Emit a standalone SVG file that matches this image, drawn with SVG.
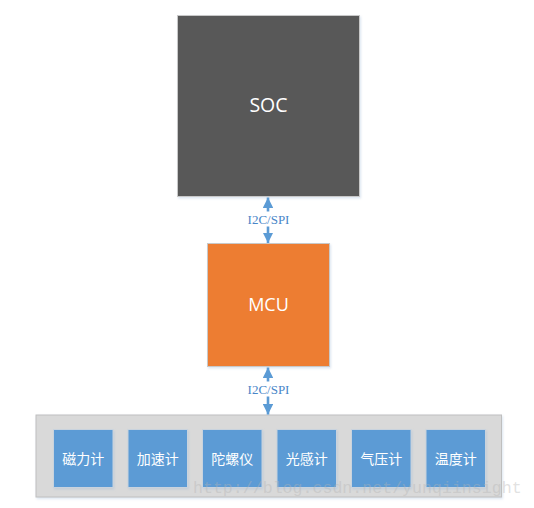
<svg xmlns="http://www.w3.org/2000/svg" width="534" height="508" viewBox="0 0 534 508">
<style>
.box{stroke:#c8c8c8;stroke-width:1;filter:url(#sh)}
.big{fill:#ffffff;font-family:"Open Sans","Noto Sans",sans-serif;font-size:18px;text-anchor:middle}
.sensor{fill:#5b9bd5;stroke:#c9d3de;stroke-width:1;filter:url(#sh)}
.st{fill:#ffffff;font-family:"Noto Sans CJK SC","Noto Sans",sans-serif;font-size:14px;text-anchor:middle}
.conn{stroke:#5b9bd5;stroke-width:2.6;fill:none;marker-start:url(#ah);marker-end:url(#ah)}
.lbl{fill:#4a86c8;font-family:"Liberation Serif","DejaVu Serif",serif;font-size:13px;text-anchor:middle}
.wm{fill:#b4b4b4;fill-opacity:0.4;font-family:"Liberation Mono","DejaVu Sans Mono",monospace;font-size:16.6px}
</style>
<defs>
<filter id="sh" x="-10%" y="-10%" width="130%" height="130%">
<feDropShadow dx="1" dy="1.5" stdDeviation="1.2" flood-color="#9db8d6" flood-opacity="0.35"/>
</filter>
<marker id="ah" viewBox="0 0 10 10" refX="10" refY="5" markerWidth="10.5" markerHeight="10.5" markerUnits="userSpaceOnUse" orient="auto-start-reverse">
<path d="M0,0 L10,5 L0,10 Z" fill="#5b9bd5"/>
</marker>
</defs>
<g id="soc">
<rect class="box" x="177.5" y="15.5" width="182" height="181" fill="#595959"/>
<text class="big" x="268.5" y="111.5" style="font-size:19.5px">SOC</text>
</g>
<g id="mcu">
<rect class="box" x="207.5" y="243.5" width="122" height="123" fill="#ed7d31"/>
<text class="big" x="268.5" y="311">MCU</text>
</g>
<g id="sensors">
<rect x="36" y="415" width="465.5" height="82" fill="#d9d9d9" stroke="#bfbfbf" stroke-width="1" filter="url(#sh)"/>
<g id="s1"><rect class="sensor" x="53.5" y="429.5" width="59.5" height="58"/><text class="st" x="83.25" y="463.5">磁力计</text></g>
<g id="s2"><rect class="sensor" x="128" y="429.5" width="59.5" height="58"/><text class="st" x="157.75" y="463.5">加速计</text></g>
<g id="s3"><rect class="sensor" x="202.5" y="429.5" width="59.5" height="58"/><text class="st" x="232.25" y="463.5">陀螺仪</text></g>
<g id="s4"><rect class="sensor" x="277" y="429.5" width="59.5" height="58"/><text class="st" x="306.75" y="463.5">光感计</text></g>
<g id="s5"><rect class="sensor" x="351.5" y="429.5" width="59.5" height="58"/><text class="st" x="381.25" y="463.5">气压计</text></g>
<g id="s6"><rect class="sensor" x="426" y="429.5" width="59.5" height="58"/><text class="st" x="455.75" y="463.5">温度计</text></g>
</g>
<g id="connectors">
<line class="conn" x1="268" y1="197.5" x2="268" y2="243"/>
<rect x="245" y="211.5" width="46" height="15" fill="#ffffff"/>
<text class="lbl" x="268.5" y="223.5">I2C/SPI</text>
<line class="conn" x1="268" y1="367.5" x2="268" y2="414.5"/>
<rect x="245" y="381.5" width="46" height="15" fill="#ffffff"/>
<text class="lbl" x="268.5" y="393.5">I2C/SPI</text>
</g>
<text class="wm" x="193" y="493">http://blog.csdn.net/yunqiinsight</text>
</svg>
